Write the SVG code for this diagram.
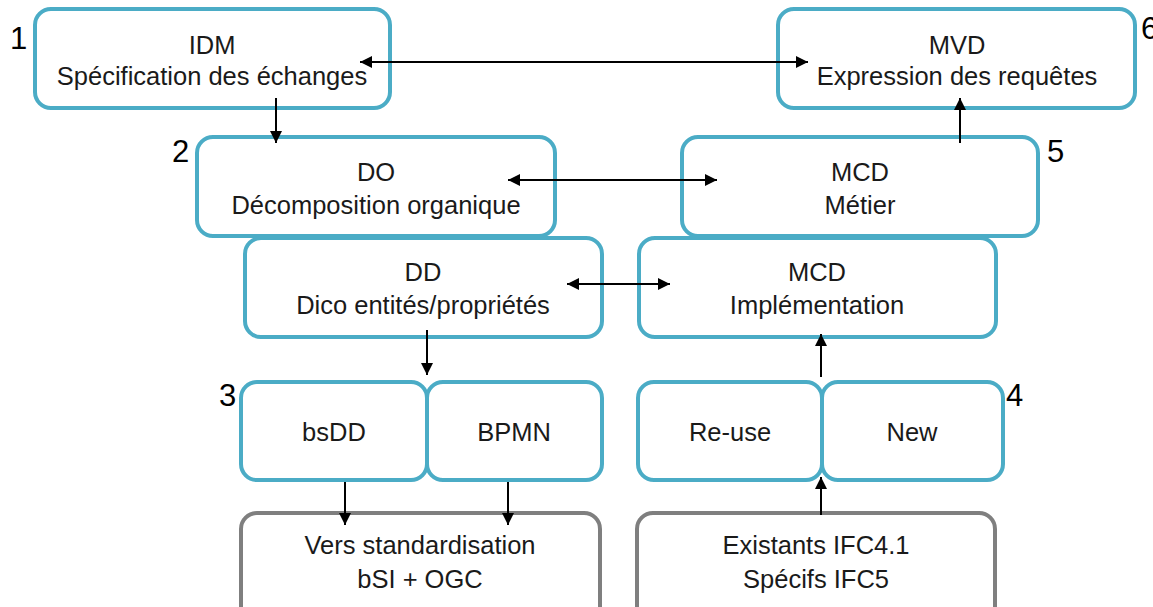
<svg xmlns="http://www.w3.org/2000/svg" width="1153" height="607" viewBox="0 0 1153 607">
<defs>
<style>
.b{fill:#fff;stroke:#4bacc6;stroke-width:4}
.g{fill:#fff;stroke:#7f7f7f;stroke-width:4}
.t{font-family:"Liberation Sans",Arial,sans-serif;font-size:25.5px;fill:#1a1a1a;text-anchor:middle}
.n{font-family:"Liberation Sans",Arial,sans-serif;font-size:31px;fill:#000}
.c{stroke:#000;stroke-width:2;fill:none}
</style>
<marker id="ah2" viewBox="0 0 10 10" refX="10" refY="5" markerWidth="14" markerHeight="12" markerUnits="userSpaceOnUse" orient="auto-start-reverse">
<path d="M0,0L10,5L0,10z" fill="#000"/>
</marker>
</defs>
<rect width="1153" height="607" fill="#fff"/>
<g id="n1"><rect class="b" x="35" y="9" width="355" height="99" rx="16"/><text class="t" x="212" y="54">IDM</text><text class="t" x="212" y="85">Spécification des échanges</text></g>
<g id="n6"><rect class="b" x="778" y="9" width="357" height="99" rx="16"/><text class="t" x="957" y="54">MVD</text><text class="t" x="957" y="85">Expression des requêtes</text></g>
<g id="n2"><rect class="b" x="197" y="137" width="358" height="99" rx="16"/><text class="t" x="376" y="181">DO</text><text class="t" x="376" y="214">Décomposition organique</text></g>
<g id="n5"><rect class="b" x="682" y="137" width="356" height="99" rx="16"/><text class="t" x="860" y="181">MCD</text><text class="t" x="860" y="214">Métier</text></g>
<g id="nDD"><rect class="b" x="245" y="238" width="357" height="99" rx="16"/><text class="t" x="423" y="281">DD</text><text class="t" x="423" y="314">Dico entités/propriétés</text></g>
<g id="nImpl"><rect class="b" x="639" y="238" width="357" height="99" rx="16"/><text class="t" x="817" y="281">MCD</text><text class="t" x="817" y="314">Implémentation</text></g>
<g id="nbsDD"><rect class="b" x="241" y="382" width="186" height="98" rx="16"/><text class="t" x="334" y="441">bsDD</text></g>
<g id="nBPMN"><rect class="b" x="427" y="382" width="175" height="98" rx="16"/><text class="t" x="514" y="441">BPMN</text></g>
<g id="nReuse"><rect class="b" x="638" y="382" width="184" height="98" rx="16"/><text class="t" x="730" y="441">Re-use</text></g>
<g id="nNew"><rect class="b" x="822" y="382" width="181" height="98" rx="16"/><text class="t" x="912" y="441">New</text></g>
<g id="nStd"><rect class="g" x="241" y="513" width="359" height="110" rx="16"/><text class="t" x="420" y="554">Vers standardisation</text><text class="t" x="420" y="588">bSI + OGC</text></g>
<g id="nIfc"><rect class="g" x="637" y="513" width="358" height="110" rx="16"/><text class="t" x="816" y="554">Existants IFC4.1</text><text class="t" x="816" y="588">Spécifs IFC5</text></g>
<g id="labels">
<text class="n" x="10" y="49">1</text>
<text class="n" x="172" y="162">2</text>
<text class="n" x="219" y="406">3</text>
<text class="n" x="1006" y="406">4</text>
<text class="n" x="1047" y="162">5</text>
<text class="n" x="1141" y="39">6</text>
</g>
<g id="connectors">
<line class="c" x1="360" y1="62" x2="808" y2="62" marker-start="url(#ah2)" marker-end="url(#ah2)"/>
<line class="c" x1="276" y1="98" x2="276" y2="143" marker-end="url(#ah2)"/>
<line class="c" x1="508" y1="180" x2="717" y2="180" marker-start="url(#ah2)" marker-end="url(#ah2)"/>
<line class="c" x1="567" y1="284" x2="670" y2="284" marker-start="url(#ah2)" marker-end="url(#ah2)"/>
<line class="c" x1="960" y1="143" x2="960" y2="98" marker-end="url(#ah2)"/>
<line class="c" x1="427" y1="330" x2="427" y2="375" marker-end="url(#ah2)"/>
<line class="c" x1="821" y1="377" x2="821" y2="334" marker-end="url(#ah2)"/>
<line class="c" x1="821" y1="515" x2="821" y2="477" marker-end="url(#ah2)"/>
<line class="c" x1="345" y1="482" x2="345" y2="525" marker-end="url(#ah2)"/>
<line class="c" x1="508" y1="482" x2="508" y2="525" marker-end="url(#ah2)"/>
</g>
</svg>
